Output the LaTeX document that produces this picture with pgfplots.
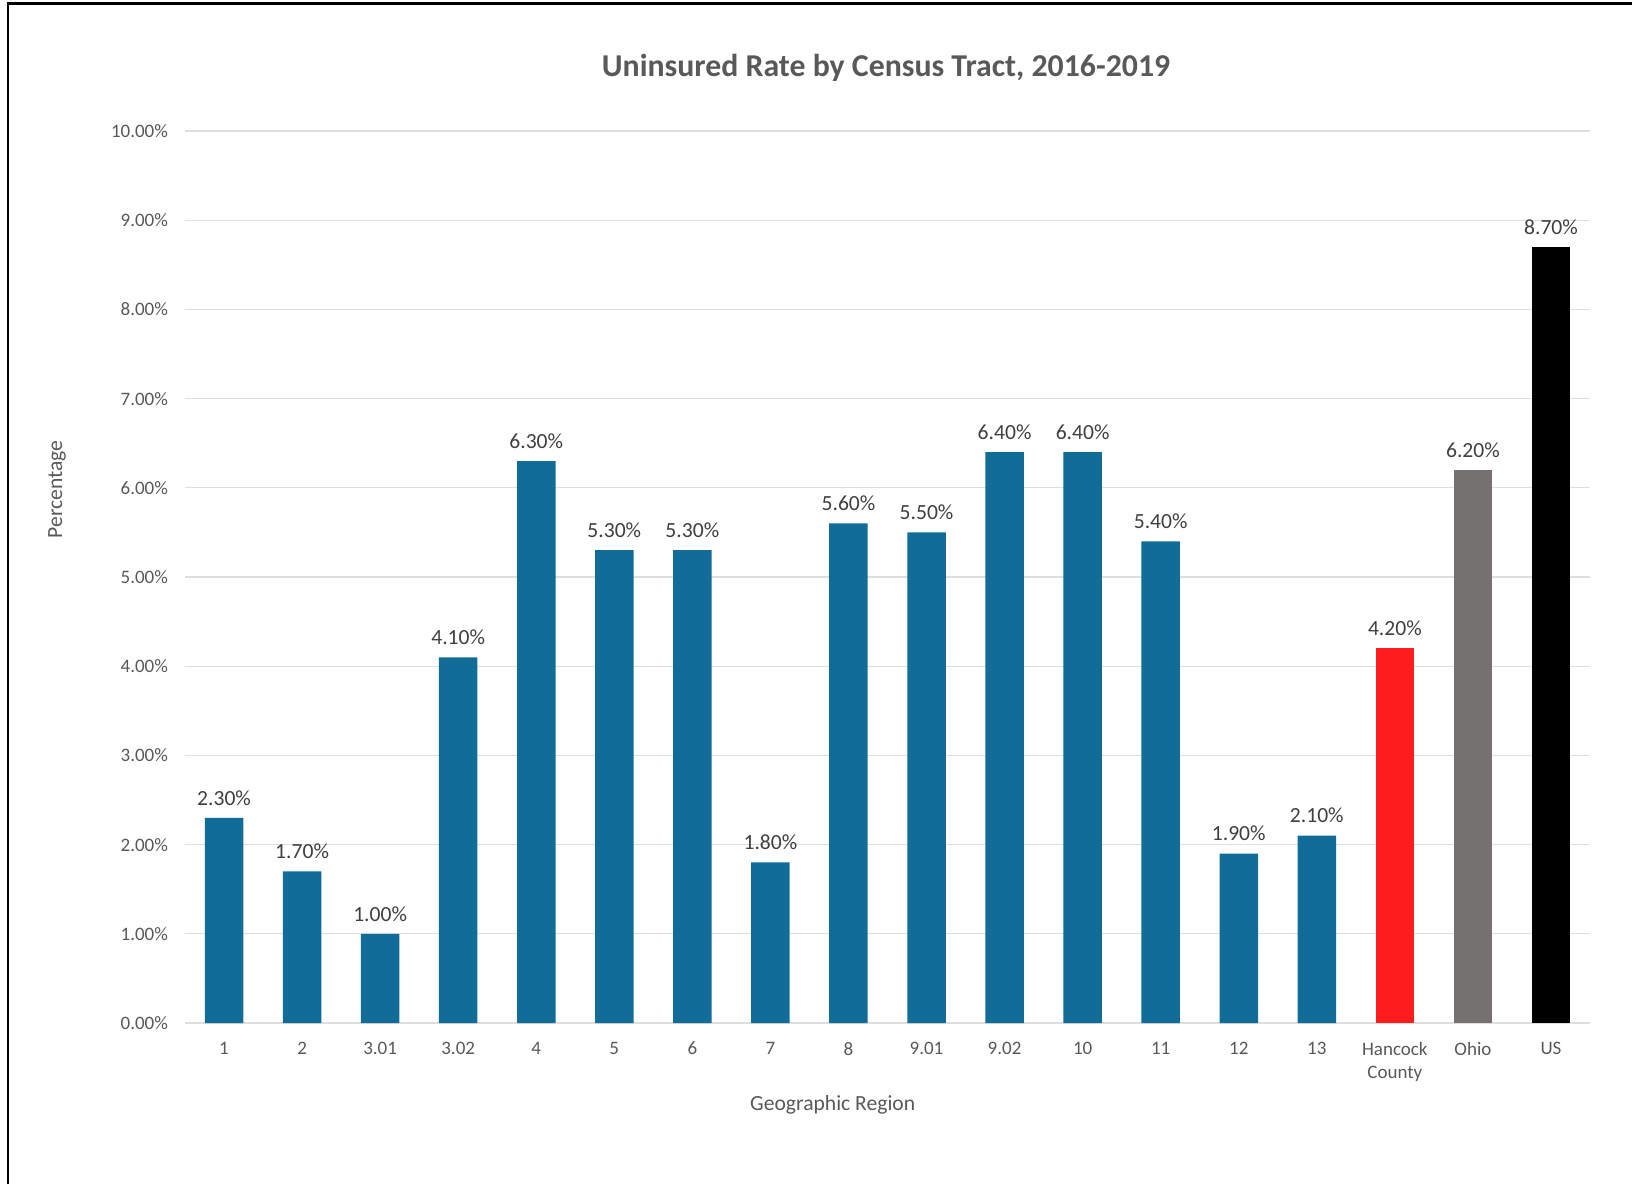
\documentclass[border=0pt]{standalone}
\usepackage{pgfplots}
\pgfplotsset{compat=1.18}
\usepackage{fontspec}
\setmainfont{Carlito}
\definecolor{barblue}{RGB}{18,108,152}
\definecolor{barred}{RGB}{255,28,28}
\definecolor{bargray}{RGB}{118,113,113}
\definecolor{ticktext}{RGB}{89,89,89}
\definecolor{labeltext}{RGB}{64,64,64}
\definecolor{gridc}{RGB}{222,222,222}
\begin{document}
\begin{tikzpicture}
\useasboundingbox (-92.5pt,-80.5pt) rectangle (723.5pt,511.5pt);
\fill[white] (-92.5pt,-80.5pt) rectangle (723.5pt,511.5pt);
\draw[black, line width=1.1pt] (-88.3pt,-80.5pt) -- (-88.3pt,509.7pt) -- (723.5pt,509.7pt);
\begin{axis}[
  at={(0pt,0pt)}, anchor=south west,
  scale only axis, width=702.5pt, height=446pt,
  ybar, bar width=19.25pt,
  xmin=-0.5, xmax=17.5, ymin=0, ymax=10,
  ytick={0,1,...,10},
  xtick={0,...,17},
  xticklabels={1,2,3.01,3.02,4,5,6,7,8,9.01,9.02,10,11,12,13,{Hancock\\County},Ohio,US},
  /pgf/number format/assume math mode=true,
  yticklabel={\pgfmathprintnumber[fixed,fixed zerofill,precision=2]{\tick}\%},
  yticklabel style={font=\fontsize{9.5}{11}\selectfont, text=ticktext, xshift=-5pt},
  xticklabel style={font=\fontsize{9.5}{11.5}\selectfont, text=ticktext, align=center, anchor=north, yshift=-6pt},
  major tick length=0pt,
  axis line style={draw=none},
  ymajorgrids, grid style={gridc, line width=0.6pt},
  title={\bfseries Uninsured Rate by Census Tract, 2016-2019},
  title style={font=\fontsize{15.9}{18}\selectfont, text=ticktext, at={(axis description cs:0.499,1.057)}, anchor=center},
  xlabel={Geographic Region},
  xlabel style={font=\fontsize{10.8}{13}\selectfont, text=ticktext, at={(axis description cs:0.461,-0.0919)}, anchor=center},
  ylabel={Percentage},
  ylabel style={font=\fontsize{10.8}{13}\selectfont, text=ticktext, at={(axis description cs:-0.091,0.598)}, anchor=center},
  nodes near coords={\pgfmathprintnumber[fixed,fixed zerofill,precision=2]{\pgfplotspointmeta}\%},
  nodes near coords style={font=\fontsize{10.8}{13}\selectfont, text=labeltext, anchor=center, yshift=10pt},
  clip=false,
]
\addplot[fill=barblue, draw=none, bar shift=0pt] coordinates {
  (0,2.3) (1,1.7) (2,1.0) (3,4.1) (4,6.3) (5,5.3) (6,5.3) (7,1.8)
  (8,5.6) (9,5.5) (10,6.4) (11,6.4) (12,5.4) (13,1.9) (14,2.1)};
\addplot[fill=barred, draw=none, bar shift=0pt] coordinates {(15,4.2)};
\addplot[fill=bargray, draw=none, bar shift=0pt] coordinates {(16,6.2)};
\addplot[fill=black, draw=none, bar shift=0pt] coordinates {(17,8.7)};
\end{axis}
\end{tikzpicture}
\end{document}
